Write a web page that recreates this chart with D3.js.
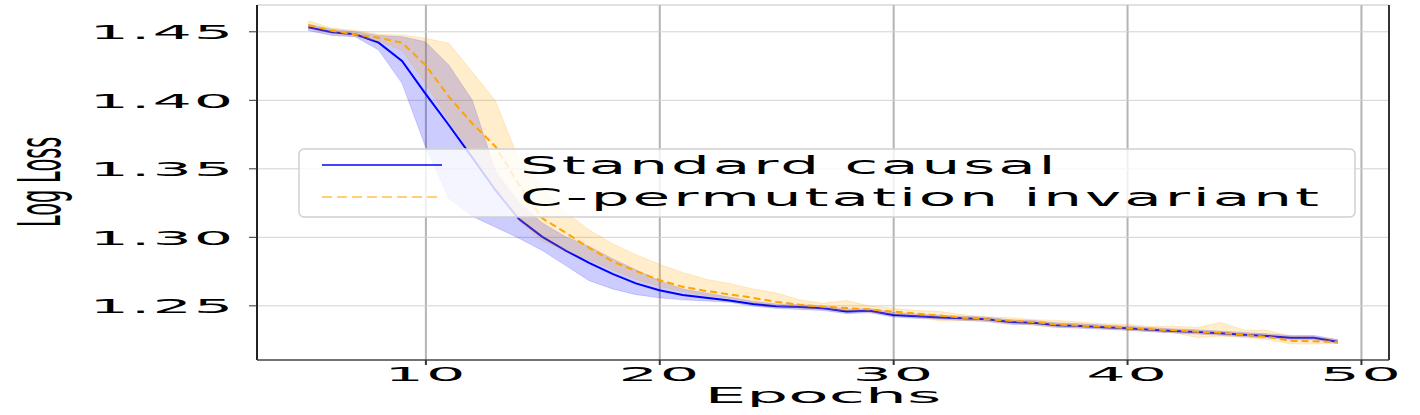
<!DOCTYPE html>
<html>
<head>
<meta charset="utf-8">
<script src="https://cdn.jsdelivr.net/npm/d3@7"></script>
<style>
  body { margin: 0; background: #fff; }
  svg text { font-family: "DejaVu Sans", sans-serif; fill: #000; }
</style>
</head>
<body>
<svg id="chart" width="1420" height="415"></svg>
<script>
// epochs on the x axis
var epochs = d3.range(5, 50);

// Standard causal: mean and band
var stdMean = [1.4529, 1.4493, 1.4478, 1.4417, 1.4283, 1.4045, 1.3816, 1.3580, 1.3340, 1.3130,
               1.3000, 1.2900, 1.2810, 1.2730, 1.2660, 1.2610, 1.2575, 1.2555, 1.2535, 1.2510,
               1.2493, 1.2488, 1.2478, 1.2455, 1.2460, 1.2430, 1.2420, 1.2412, 1.2405, 1.2398,
               1.2378, 1.2373, 1.2355, 1.2349, 1.2340, 1.2332, 1.2322, 1.2312, 1.2305, 1.2296,
               1.2285, 1.2276, 1.2264, 1.2264, 1.2234];
var stdLo   = [1.4505, 1.4470, 1.4460, 1.4363, 1.4120, 1.3660, 1.3280, 1.3150, 1.3070, 1.2990,
               1.2900, 1.2790, 1.2680, 1.2620, 1.2578, 1.2555, 1.2540, 1.2532, 1.2522, 1.2495,
               1.2478, 1.2470, 1.2462, 1.2440, 1.2445, 1.2415, 1.2405, 1.2398, 1.2390, 1.2382,
               1.2362, 1.2358, 1.2340, 1.2333, 1.2325, 1.2318, 1.2308, 1.2298, 1.2290, 1.2282,
               1.2270, 1.2262, 1.2250, 1.2250, 1.2220];
var stdHi   = [1.4550, 1.4515, 1.4497, 1.4470, 1.4460, 1.4424, 1.4254, 1.3999, 1.3480, 1.3250,
               1.3100, 1.3000, 1.2930, 1.2840, 1.2760, 1.2680, 1.2620, 1.2590, 1.2560, 1.2530,
               1.2510, 1.2505, 1.2495, 1.2472, 1.2476, 1.2447, 1.2436, 1.2428, 1.2420, 1.2414,
               1.2394, 1.2390, 1.2372, 1.2365, 1.2356, 1.2348, 1.2338, 1.2328, 1.2322, 1.2312,
               1.2302, 1.2292, 1.2280, 1.2280, 1.2250];

// C-permutation invariant: mean and band
var permMean = [1.4546, 1.4504, 1.4478, 1.4453, 1.4417, 1.4254, 1.4023, 1.3828, 1.3658, 1.3380,
                1.3135, 1.3030, 1.2920, 1.2820, 1.2750, 1.2685, 1.2635, 1.2605, 1.2580, 1.2555,
                1.2525, 1.2505, 1.2490, 1.2480, 1.2470, 1.2455, 1.2440, 1.2425, 1.2410, 1.2398,
                1.2388, 1.2378, 1.2360, 1.2352, 1.2345, 1.2335, 1.2325, 1.2318, 1.2308, 1.2300,
                1.2285, 1.2270, 1.2240, 1.2238, 1.2232];
var permLo   = [1.4520, 1.4485, 1.4460, 1.4430, 1.4360, 1.4120, 1.3850, 1.3600, 1.3350, 1.3120,
                1.2970, 1.2900, 1.2830, 1.2760, 1.2690, 1.2640, 1.2600, 1.2570, 1.2550, 1.2520,
                1.2495, 1.2480, 1.2470, 1.2460, 1.2450, 1.2435, 1.2420, 1.2385, 1.2390, 1.2385,
                1.2370, 1.2355, 1.2335, 1.2340, 1.2330, 1.2318, 1.2308, 1.2300, 1.2265, 1.2275,
                1.2265, 1.2250, 1.2218, 1.2218, 1.2222];
var permHi   = [1.4575, 1.4525, 1.4505, 1.4478, 1.4473, 1.4450, 1.4412, 1.4205, 1.3990, 1.3560,
                1.3360, 1.3180, 1.3050, 1.2950, 1.2870, 1.2800, 1.2740, 1.2690, 1.2660, 1.2620,
                1.2590, 1.2540, 1.2515, 1.2535, 1.2495, 1.2478, 1.2462, 1.2455, 1.2432, 1.2415,
                1.2410, 1.2395, 1.2390, 1.2378, 1.2365, 1.2362, 1.2345, 1.2348, 1.2338, 1.2375,
                1.2320, 1.2318, 1.2275, 1.2268, 1.2250];

var xTicks = [10, 20, 30, 40, 50];
var yTicks = [1.25, 1.30, 1.35, 1.40, 1.45];
var seriesNames = ["Standard causal", "C-permutation invariant"];

var svg = d3.select("#chart");
var m = {top: 5, right: 31, bottom: 55, left: 257};
var W = +svg.attr("width") - m.left - m.right,
    H = +svg.attr("height") - m.top - m.bottom;
var g = svg.append("g").attr("transform", "translate(" + m.left + "," + m.top + ")");

var x = d3.scaleLinear().domain([2.8, 51.2]).range([0, W]);
var y = d3.scaleLinear().domain([1.2101, 1.4692]).range([H, 0]);

// the source image is stretched sideways, so text gets a horizontal scale
function wideText(sel, o) {
  return sel.attr("transform", "translate(" + o.x + "," + o.y + ") scale(" + o.sx + ",1)" + (o.rot ? " rotate(" + o.rot + ")" : ""))
    .attr("font-size", o.size)
    .attr("letter-spacing", o.ls || 0)
    .attr("text-anchor", o.anchor || "start");
}

// grid
g.append("g")
    .attr("transform", "translate(0," + H + ")")
    .call(d3.axisBottom(x).tickValues(xTicks).tickSize(-H).tickFormat(""))
    .call(function(s) { s.select(".domain").remove(); })
    .selectAll("line").attr("stroke", "#b4b4b4").attr("stroke-width", 2);
g.append("g")
    .call(d3.axisLeft(y).tickValues(yTicks).tickSize(-W).tickFormat(""))
    .call(function(s) { s.select(".domain").remove(); })
    .selectAll("line").attr("stroke", "#d2d2d2").attr("stroke-width", 1);

// bands + lines
var idx = d3.range(epochs.length);
function band(lo, hi) {
  return d3.area().x(function(i) { return x(epochs[i]); })
    .y0(function(i) { return y(lo[i]); })
    .y1(function(i) { return y(hi[i]); });
}
function mean(vals) {
  return d3.line().x(function(i) { return x(epochs[i]); })
    .y(function(i) { return y(vals[i]); });
}

g.append("path").datum(idx).attr("d", band(stdLo, stdHi))
    .attr("fill", "blue").attr("fill-opacity", 0.2)
    .attr("stroke", "blue").attr("stroke-opacity", 0.15);
g.append("path").datum(idx).attr("d", mean(stdMean))
    .attr("fill", "none").attr("stroke", "blue").attr("stroke-width", 2);

g.append("path").datum(idx).attr("d", band(permLo, permHi))
    .attr("fill", "orange").attr("fill-opacity", 0.2)
    .attr("stroke", "orange").attr("stroke-opacity", 0.2);
g.append("path").datum(idx).attr("d", mean(permMean))
    .attr("fill", "none").attr("stroke", "orange").attr("stroke-width", 2)
    .attr("stroke-dasharray", "7,4");

// spines
g.append("line").attr("x1", 0).attr("x2", W).attr("y1", 0).attr("y2", 0).attr("stroke", "#c4c4c4");
g.append("line").attr("x1", W).attr("x2", W).attr("y1", 0).attr("y2", H).attr("stroke", "#333").attr("stroke-width", 2);
g.append("line").attr("x1", 0).attr("x2", 0).attr("y1", 0).attr("y2", H).attr("stroke", "#222").attr("stroke-width", 2);
g.append("line").attr("x1", 0).attr("x2", W).attr("y1", H).attr("y2", H).attr("stroke", "#444").attr("stroke-width", 1.5);

// y axis
var gy = g.append("g")
    .call(d3.axisLeft(y).tickValues(yTicks).tickSize(8).tickFormat(d3.format(".2f")));
gy.select(".domain").remove();
gy.selectAll("line").attr("stroke", "#333");
gy.selectAll("text").each(function() {
  wideText(d3.select(this).attr("x", null).attr("dy", "0.37em").attr("fill", "#000"),
           {x: -22, y: 0, sx: 3.1, size: 20, ls: 0.6, anchor: "end"});
});

// x axis
var gx = g.append("g")
    .attr("transform", "translate(0," + H + ")")
    .call(d3.axisBottom(x).tickValues(xTicks).tickSize(5).tickFormat(d3.format("d")));
gx.select(".domain").remove();
gx.selectAll("line").attr("stroke", "#333").attr("stroke-width", 2);
gx.selectAll("text").each(function() {
  wideText(d3.select(this).attr("y", null).attr("dy", null).attr("fill", "#000"),
           {x: 0, y: 21, sx: 3.1, size: 20, ls: 0.6, anchor: "middle"});
});

// axis labels
wideText(g.append("text").text("Epochs"), {x: W / 2, y: 398, sx: 3.15, size: 21, anchor: "middle"});
wideText(svg.append("text").text("Log Loss"), {x: 60, y: 182, sx: 2.8, size: 21, anchor: "middle", rot: -90});

// legend
var lg = svg.append("g");
lg.append("rect")
    .attr("x", 299).attr("y", 149).attr("width", 1056).attr("height", 68)
    .attr("rx", 5).attr("ry", 5)
    .attr("fill", "#fff").attr("fill-opacity", 0.8)
    .attr("stroke", "#d0d0d0").attr("stroke-width", 1.5);
var handles = [
  {color: "blue", dash: null, op: 1, w: 1.4},
  {color: "orange", dash: "10,5", op: 0.7, w: 1.6}
];
seriesNames.forEach(function(name, i) {
  var ly = 165 + i * 32;
  lg.append("line")
      .attr("x1", 322).attr("x2", 442).attr("y1", ly).attr("y2", ly)
      .attr("stroke", handles[i].color).attr("stroke-opacity", handles[i].op)
      .attr("stroke-width", handles[i].w)
      .attr("stroke-dasharray", handles[i].dash);
  wideText(lg.append("text").text(name), {x: 520, y: ly + 9, sx: 2.45, size: 25, ls: 1.2});
});
</script>
</body>
</html>
